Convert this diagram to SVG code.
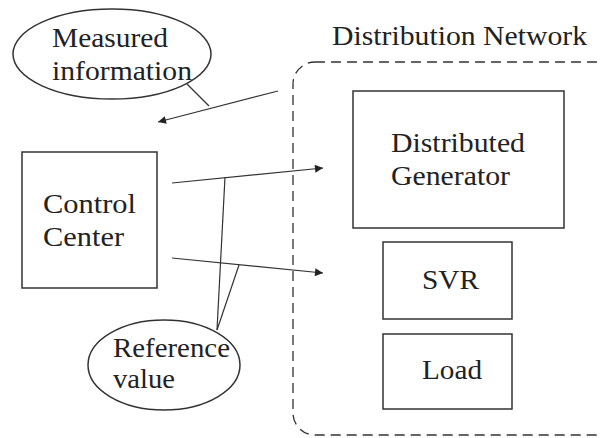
<svg xmlns="http://www.w3.org/2000/svg" width="600" height="438" viewBox="0 0 600 438">
<style>
.box{fill:none;stroke:#333;stroke-width:1.5}
.ln{fill:none;stroke:#333;stroke-width:1.2}
.t{font-family:"Liberation Serif","Times New Roman",serif;font-size:28px;fill:#222}
</style>
<defs>
<marker id="ah" viewBox="0 0 10 10" refX="10" refY="5" markerWidth="12" markerHeight="8" markerUnits="userSpaceOnUse" orient="auto">
<path d="M0,0 L10,5 L0,10 z" fill="#222"/>
</marker>
</defs>
<rect width="600" height="438" fill="#fff"/>
<g id="network">
<rect x="293" y="62" width="330" height="373" rx="22" fill="none" stroke="#333" stroke-width="1.3" stroke-dasharray="10,6"/>
<text class="t" x="332" y="45" textLength="255" lengthAdjust="spacingAndGlyphs">Distribution Network</text>
</g>
<g id="measured">
<ellipse cx="112" cy="54" rx="99" ry="45" class="box" stroke-width="1.2"/>
<text class="t" x="52" y="47" textLength="116" lengthAdjust="spacingAndGlyphs">Measured</text>
<text class="t" x="52" y="80" textLength="140" lengthAdjust="spacingAndGlyphs">information</text>
</g>
<g id="control">
<rect x="22" y="152" width="135" height="136" class="box"/>
<text class="t" x="43" y="213" textLength="93" lengthAdjust="spacingAndGlyphs">Control</text>
<text class="t" x="43" y="246" textLength="81" lengthAdjust="spacingAndGlyphs">Center</text>
</g>
<g id="generator">
<rect x="353" y="91" width="211" height="137" class="box"/>
<text class="t" x="391" y="152" textLength="134" lengthAdjust="spacingAndGlyphs">Distributed</text>
<text class="t" x="391" y="185" textLength="119" lengthAdjust="spacingAndGlyphs">Generator</text>
</g>
<g id="svr">
<rect x="383" y="242" width="129" height="77" class="box"/>
<text class="t" x="422" y="289" textLength="57" lengthAdjust="spacingAndGlyphs">SVR</text>
</g>
<g id="load">
<rect x="383" y="334" width="129" height="75" class="box"/>
<text class="t" x="422" y="379" textLength="60" lengthAdjust="spacingAndGlyphs">Load</text>
</g>
<g id="reference">
<ellipse cx="164" cy="365" rx="76" ry="45" class="box" stroke-width="1.2"/>
<text class="t" x="113" y="357" textLength="117" lengthAdjust="spacingAndGlyphs">Reference</text>
<text class="t" x="113" y="388" textLength="62" lengthAdjust="spacingAndGlyphs">value</text>
</g>
<g id="connectors">
<line x1="278" y1="91" x2="158" y2="122" class="ln" marker-end="url(#ah)"/>
<line x1="187" y1="84" x2="209" y2="106" class="ln"/>
<line x1="172" y1="183" x2="323" y2="168" class="ln" marker-end="url(#ah)"/>
<line x1="172" y1="258" x2="323" y2="273" class="ln" marker-end="url(#ah)"/>
<line x1="217" y1="330" x2="225" y2="177" class="ln"/>
<line x1="217" y1="330" x2="239" y2="265" class="ln"/>
</g>
</svg>
